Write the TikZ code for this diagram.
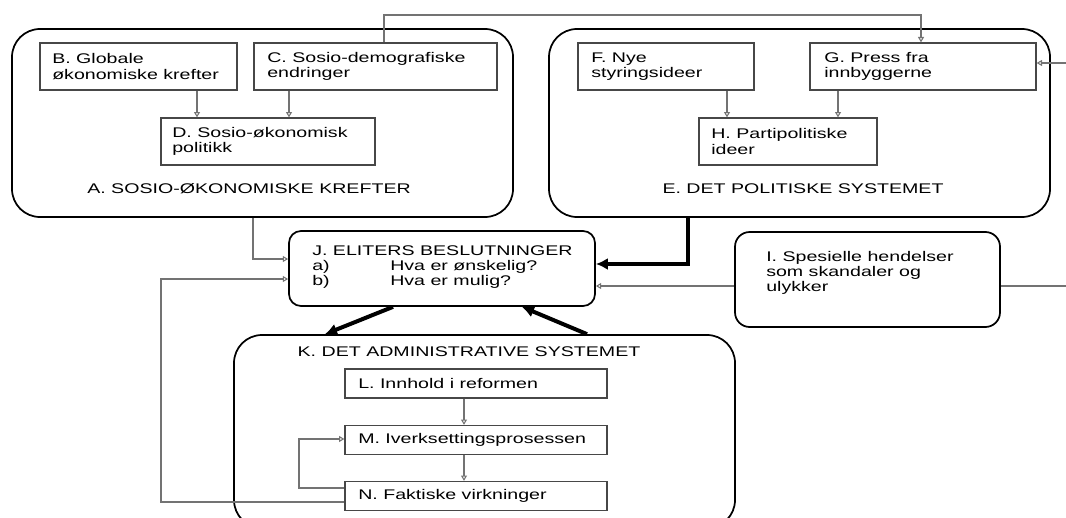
\documentclass[tikz,border=0pt]{standalone}
\usepackage{fontspec}
\setmainfont{Liberation Sans}[FakeStretch=1.4]
\usetikzlibrary{arrows.meta}
\begin{document}
\begin{tikzpicture}[x=0.75pt,y=-0.75pt,
  font=\fontsize{10.5}{11.5}\selectfont,
  outer/.style={draw=black, line width=1.3pt, rounded corners=21pt, minimum width=375.75pt, minimum height=141pt, inner sep=0pt},
  inbox/.style={draw=black!72, line width=1pt, inner sep=0pt},
  txt/.style={anchor=west, align=left, inner sep=0pt},
  lbl/.style={inner sep=0pt},
  conn/.style={draw=black!55, line width=0.8pt, -{Triangle[open, length=4pt, width=4.5pt]}},
  plain/.style={draw=black!55, line width=0.8pt},
  bigarrow/.style={draw=black, line width=3pt, -{Latex[length=9pt, width=9pt]}}
]
\useasboundingbox (0,0) rectangle (1066,517);
% outer groups
\node[outer] (A) at (262.5,123) {};
\node[outer] (E) at (799.5,123) {};
\node[outer, minimum height=144.75pt] (K) at (484.5,431.5) {};
% inner boxes
\node[inbox, minimum width=147.75pt, minimum height=35.25pt] (B) at (138.5,66.5) {};
\node[inbox, minimum width=182.25pt, minimum height=35.25pt] (C) at (375.5,66.5) {};
\node[inbox, minimum width=160.5pt, minimum height=35.25pt] (D) at (268,141.5) {};
\node[inbox, minimum width=132pt, minimum height=35.25pt] (F) at (666,66.5) {};
\node[inbox, minimum width=169.5pt, minimum height=35.25pt] (G) at (923,66.5) {};
\node[inbox, minimum width=133.5pt, minimum height=35.25pt] (H) at (788,141.5) {};
\node[inbox, minimum width=196.5pt, minimum height=21.75pt] (L) at (476,383.5) {};
\node[inbox, minimum width=196.5pt, minimum height=21.75pt] (M) at (476,440) {};
\node[inbox, minimum width=196.5pt, minimum height=21.75pt] (N) at (476,496) {};
\node[draw=black, line width=1.3pt, rounded corners=9pt, minimum width=229.5pt, minimum height=56.25pt, inner sep=0pt] (J) at (442,268.5) {};
\node[draw=black, line width=1.3pt, rounded corners=11pt, minimum width=198.75pt, minimum height=71.25pt, inner sep=0pt] (I) at (867.5,279.5) {};
% texts
\node[txt] (Bt) at (52,66.5) {B. Globale\\økonomiske krefter};
\node[txt] (Ct) at (267,66.5) {C. Sosio-demografiske\\endringer};
\node[txt] (Dt) at (172,141.5) {D. Sosio-økonomisk\\politikk};
\node[txt] (Ft) at (591,66.5) {F. Nye\\styringsideer};
\node[txt] (Gt) at (824,66.5) {G. Press fra\\innbyggerne};
\node[txt] (Ht) at (711,141.5) {H. Partipolitiske\\ideer};
\node[txt] (Lt) at (358,383.5) {L. Innhold i reformen};
\node[txt] (Mt) at (358,440) {M. Iverksettingsprosessen};
\node[txt] (Nt) at (358,496) {N. Faktiske virkninger};
\node[txt] (Jt) at (312,267) {J. ELITERS BESLUTNINGER\\\makebox[58.5pt][l]{a)}Hva er ønskelig?\\\makebox[58.5pt][l]{b)}Hva er mulig?};
\node[txt] (It) at (766,273) {I. Spesielle hendelser\\som skandaler og\\ulykker};
\node[lbl] (At) at (249,189) {A. SOSIO-ØKONOMISKE KREFTER};
\node[lbl] (Et) at (803,189) {E. DET POLITISKE SYSTEMET};
\node[lbl] (Kt) at (469,352) {K. DET ADMINISTRATIVE SYSTEMET};
% helper coordinates
\coordinate (bd) at (197,0);
\coordinate (cd) at (289,0);
\coordinate (fh) at (727,0);
\coordinate (gh) at (838,0);
\coordinate (lm) at (464,0);
\coordinate (ctop) at (384,15);
\coordinate (gtop) at (921,15);
\coordinate (gr) at (1066,63);
\coordinate (aj) at (253,259);
\coordinate (lp1) at (161,279);
\coordinate (lp2) at (161,502);
\coordinate (nm1) at (299,488);
\coordinate (nm2) at (299,439);
\coordinate (ej) at (688,264);
\coordinate (ij) at (0,286);
\coordinate (iright) at (1066,286);
\coordinate (jk1) at (393,0);
\coordinate (jk2) at (325,0);
\coordinate (kj1) at (587,0);
\coordinate (kj2) at (522,0);
% connectors inside groups
\draw[conn] (bd |- B.south) -- (bd |- D.north);
\draw[conn] (cd |- C.south) -- (cd |- D.north);
\draw[conn] (fh |- F.south) -- (fh |- H.north);
\draw[conn] (gh |- G.south) -- (gh |- H.north);
\draw[conn] (lm |- L.south) -- (lm |- M.north);
\draw[conn] (lm |- M.south) -- (lm |- N.north);
% long connectors
\draw[conn] (ctop |- C.north) -- (ctop) -- (gtop) -- (gtop |- G.north);
\draw[conn] (gr) -- (gr -| G.east);
\draw[conn] (aj |- A.south) -- (aj) -- (aj -| J.west);
\draw[conn] (lp2 -| N.west) -- (lp2) -- (lp1) -- (lp1 -| J.west);
\draw[conn] (nm1 -| N.west) -- (nm1) -- (nm2) -- (nm2 -| M.west);
\draw[conn] (ij -| I.west) -- (ij -| J.east);
\draw[plain] (ij -| I.east) -- (iright);
% thick arrows
\draw[bigarrow] (ej |- E.south) -- (ej) -- (ej -| J.east);
\draw[bigarrow] (jk1 |- J.south) -- (jk2 |- K.north);
\draw[bigarrow] (kj1 |- K.north) -- (kj2 |- J.south);
\end{tikzpicture}
\end{document}
